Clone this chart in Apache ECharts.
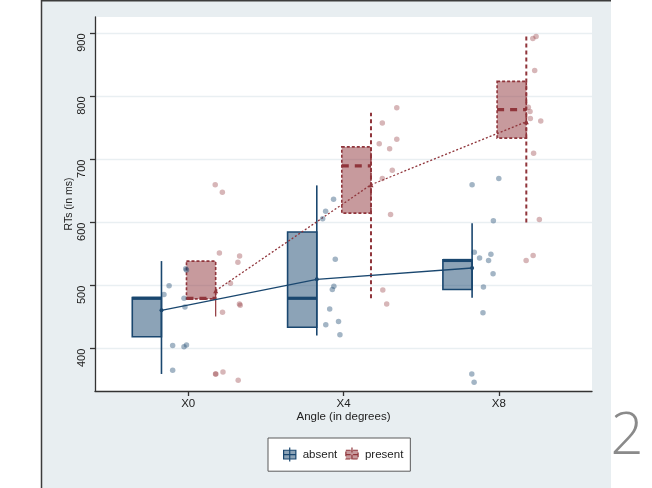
<!DOCTYPE html>
<html>
<head>
<meta charset="utf-8">
<script src="https://cdn.jsdelivr.net/npm/echarts@6/dist/echarts.min.js"></script>
<style>
html,body{margin:0;padding:0;background:#fff;}
#chart{width:652px;height:488px;}
</style>
</head>
<body>
<div id="chart"></div>
<script>
// ---------- data ----------
const categories = ['X0', 'X4', 'X8'];
const yTicks = [400, 500, 600, 700, 800, 900];

const absentQ1     = [419, 434, 494];
const absentMedian = [480, 480, 540];
const absentQ3     = [481, 585, 541];
const absentLow    = [360, 421, 481];
const absentHigh   = [539, 659, 599];
const absentMean   = [461, 510, 528];

const presentQ1     = [479, 615, 734];
const presentMedian = [480, 690, 779];
const presentQ3     = [539, 720, 824];
const presentLow    = [451, 480, 600];
const presentHigh   = [496, 774, 900];
const presentMean   = [492, 660, 760];

const absentPointsX0 = [486, 500, 527, 525, 480, 466, 405, 403, 406, 366];
const absentJitterX0 = [-0.156, -0.123, -0.016, -0.011, -0.027, -0.021, -0.10, -0.027, -0.011, -0.10];
const absentPointsX4 = [637, 618, 606, 542, 499, 494, 463, 443, 438, 422];
const absentJitterX4 = [-0.064, -0.115, -0.134, -0.053, -0.062, -0.072, -0.089, -0.032, -0.114, -0.023];
const absentPointsX8 = [660, 670, 603, 553, 544, 550, 540, 519, 498, 457, 360, 347];
const absentJitterX8 = [-0.172, 0.0, -0.035, -0.158, -0.124, -0.051, -0.066, -0.037, -0.099, -0.102, -0.174, -0.159];

const presentPointsX0 = [660, 648, 552, 504, 537, 547, 471, 469, 458, 360, 360, 363, 350];
const presentJitterX0 = [0.174, 0.22, 0.201, 0.272, 0.32, 0.331, 0.33, 0.335, 0.221, 0.176, 0.178, 0.224, 0.322];
const presentPointsX4 = [782, 758, 725, 717, 732, 683, 670, 613, 493, 471];
const presentJitterX4 = [0.343, 0.25, 0.23, 0.297, 0.343, 0.314, 0.25, 0.303, 0.253, 0.278];
const presentPointsX8 = [892, 895, 841, 783, 776, 765, 761, 710, 605, 548, 540];
const presentJitterX8 = [0.219, 0.24, 0.231, 0.19, 0.201, 0.203, 0.27, 0.224, 0.261, 0.221, 0.176];

// ---------- styling / layout ----------
const NAVY = '#1a476f', MAROON = '#90353b';
const ABS_FILL = 'rgba(26,71,111,0.5)', PRE_FILL = 'rgba(144,53,59,0.5)';
const ABS_PT = 'rgba(26,71,111,0.5)', PRE_PT = 'rgba(144,53,59,0.45)';
const ABS_BOX = [-0.36, -0.172], PRE_BOX = [-0.011, 0.177];
const FONT = '"Liberation Sans", Arial, sans-serif';

function boxRows(q1, med, q3, lo, hi) {
  return categories.map((c, i) => [i, q1[i], med[i], q3[i], lo[i], hi[i]]);
}
function pointRows(groups) {
  const out = [];
  groups.forEach((g, i) => g[0].forEach((v, k) => out.push([i + g[1][k], v])));
  return out;
}

function makeRender(range, fill, stroke, present) {
  return function (params, api) {
    const c = api.value(0);
    const q1 = api.value(1), med = api.value(2), q3 = api.value(3), lo = api.value(4), hi = api.value(5);
    const lt = api.coord([c + range[0], q3]);
    const rb = api.coord([c + range[1], q1]);
    const m1 = api.coord([c + range[0], med]);
    const m2 = api.coord([c + range[1], med]);
    const w1 = api.coord([c + range[1], lo]);
    const w2 = api.coord([c + range[1], hi]);
    const solidWhisker = !present || params.dataIndex === 0;
    return {
      type: 'group',
      children: [
        { type: 'rect', shape: { x: lt[0], y: lt[1], width: rb[0] - lt[0], height: rb[1] - lt[1] },
          style: { fill: fill, stroke: stroke, lineWidth: 1.6, lineDash: present ? [3, 2] : null } },
        { type: 'line', shape: { x1: m1[0], y1: m1[1], x2: m2[0], y2: m2[1] },
          style: { stroke: stroke, lineWidth: 3.2, lineDash: present ? [7, 6] : null } },
        { type: 'line', shape: { x1: w1[0], y1: w1[1], x2: w2[0], y2: w2[1] },
          style: { stroke: stroke, lineWidth: present ? (solidWhisker ? 1.2 : 2) : 1.6, lineDash: solidWhisker ? null : [4, 3] } }
      ]
    };
  };
}

const chart = echarts.init(document.getElementById('chart'), null, { renderer: 'canvas' });

const option = {
  backgroundColor: '#ffffff',
  animation: false,
  textStyle: { fontFamily: FONT },
  graphic: [
    { type: 'rect', z: -10, shape: { x: 41, y: 0, width: 570, height: 488 }, style: { fill: '#e8eef1' } },
    { type: 'line', z: -9, shape: { x1: 41, y1: 0.75, x2: 611, y2: 0.75 }, style: { stroke: '#3c3c3c', lineWidth: 1.5 } },
    { type: 'line', z: -9, shape: { x1: 41.5, y1: 0, x2: 41.5, y2: 488 }, style: { stroke: '#3c3c3c', lineWidth: 1.5 } },
    { type: 'text', z: 10, style: { x: 627, y: 437, text: '2', fill: '#8a8a8a', font: '300 58px "Open Sans", sans-serif', textAlign: 'center', textVerticalAlign: 'middle' } }
  ],
  grid: { left: 95, top: 17, width: 497, height: 374, show: true, backgroundColor: '#ffffff', borderWidth: 0 },
  legend: {
    left: 268, top: 438,
    backgroundColor: '#ffffff', borderColor: '#5a5a5a', borderWidth: 1, borderRadius: 0,
    padding: [9, 7, 9, 15], itemWidth: 16, itemHeight: 14, itemGap: 8,
    textStyle: { fontSize: 11.5, color: '#222', fontFamily: FONT },
    data: [
      { name: 'absent', icon: 'path://M1,3H15V13H1Z M8,0V16 M1,8H15',
        itemStyle: { color: ABS_FILL, borderColor: NAVY, borderWidth: 1.2 } },
      { name: 'present', icon: 'path://M1,3H15V13H1Z M8,0V16 M1,8H15',
        itemStyle: { color: PRE_FILL, borderColor: MAROON, borderWidth: 1.2, borderType: 'dashed' } }
    ]
  },
  xAxis: {
    type: 'value', min: -0.6, max: 2.6,
    name: 'Angle (in degrees)', nameLocation: 'middle', nameGap: 20, nameMoveOverlap: false,
    nameTextStyle: { fontSize: 11.5, color: '#222', fontFamily: FONT },
    axisLine: { show: true, onZero: false, lineStyle: { color: '#333', width: 1.3 } },
    axisTick: { show: true, length: 5, lineStyle: { color: '#333', width: 1.3 }, customValues: categories.map((c, i) => i) },
    axisLabel: { show: true, margin: 7, fontSize: 11.5, color: '#222', fontFamily: FONT,
      customValues: categories.map((c, i) => i), formatter: v => categories[Math.round(v)] },
    splitLine: { show: false }
  },
  yAxis: {
    type: 'value', min: 333, max: 926,
    name: 'RTs (in ms)', nameLocation: 'middle', nameGap: 20, nameMoveOverlap: false,
    nameTextStyle: { fontSize: 10.5, color: '#222', fontFamily: FONT },
    axisLine: { show: true, onZero: false, lineStyle: { color: '#333', width: 1.3 } },
    axisTick: { show: true, length: 5, lineStyle: { color: '#333', width: 1.3 }, customValues: yTicks },
    axisLabel: { show: true, rotate: 90, align: 'right', margin: 8, fontSize: 11, color: '#222', fontFamily: FONT,
      customValues: yTicks },
    splitLine: { show: true, lineStyle: { color: '#e9eff2', width: 1.3 } }
  },
  series: [
    { name: 'absent', type: 'custom', z: 2, renderItem: makeRender(ABS_BOX, ABS_FILL, NAVY, false),
      encode: { x: 0, y: [1, 2, 3, 4, 5] },
      data: boxRows(absentQ1, absentMedian, absentQ3, absentLow, absentHigh) },
    { name: 'present', type: 'custom', z: 2, renderItem: makeRender(PRE_BOX, PRE_FILL, MAROON, true),
      encode: { x: 0, y: [1, 2, 3, 4, 5] },
      data: boxRows(presentQ1, presentMedian, presentQ3, presentLow, presentHigh) },
    { name: 'absent', type: 'line', z: 4, symbol: 'circle', symbolSize: 4, showSymbol: true,
      itemStyle: { color: NAVY }, lineStyle: { color: NAVY, width: 1.3 },
      data: absentMean.map((v, i) => [i + ABS_BOX[1], v]) },
    { name: 'present', type: 'line', z: 4, symbol: 'triangle', symbolSize: 5, showSymbol: true,
      itemStyle: { color: MAROON }, lineStyle: { color: MAROON, width: 1.3, type: [2, 2] },
      data: presentMean.map((v, i) => [i + PRE_BOX[1], v]) },
    { name: 'absent', type: 'scatter', z: 5, symbol: 'circle', symbolSize: 5.5,
      itemStyle: { color: ABS_PT },
      data: pointRows([[absentPointsX0, absentJitterX0], [absentPointsX4, absentJitterX4], [absentPointsX8, absentJitterX8]]) },
    { name: 'present', type: 'scatter', z: 5, symbol: 'circle', symbolSize: 5.5,
      itemStyle: { color: PRE_PT },
      data: pointRows([[presentPointsX0, presentJitterX0], [presentPointsX4, presentJitterX4], [presentPointsX8, presentJitterX8]]) }
  ]
};
chart.setOption(option);
</script>
</body>
</html>
